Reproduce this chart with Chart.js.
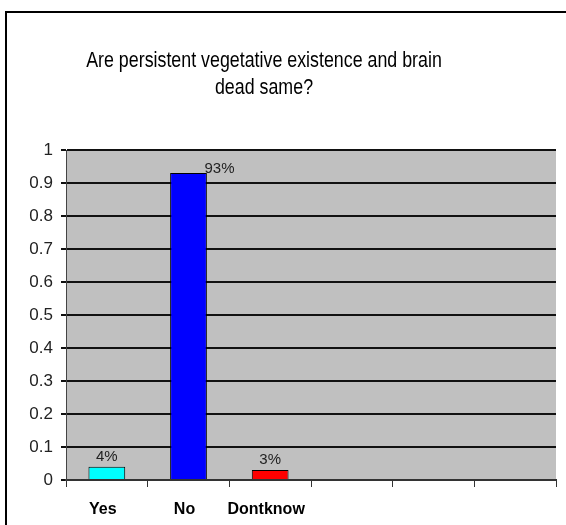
<!DOCTYPE html>
<html>
<head>
<meta charset="utf-8">
<script src="https://cdn.jsdelivr.net/npm/chart.js@4/dist/chart.umd.min.js"></script>
<style>
  html, body { margin: 0; padding: 0; background: #ffffff; }
  #wrap { position: relative; width: 566px; height: 525px; overflow: hidden; }
  #frame { position: absolute; left: 5px; top: 11px; width: 600px; height: 600px;
           border: 2px solid #000; box-sizing: border-box; }
  canvas { position: absolute; left: 0; top: 0; }
</style>
</head>
<body>
<div id="wrap">
  <div id="frame"></div>
  <canvas id="chart" width="566" height="525"></canvas>
</div>
<script>
// Survey answers and their shares
const categories = ['Yes', 'No', 'Dontknow', '', '', ''];
const shares = [0.04, 0.93, 0.03, null, null, null];
const barColors = ['#00ffff', '#0000ff', '#ff0000', '#000', '#000', '#000'];
const yTicks = [0, 0.1, 0.2, 0.3, 0.4, 0.5, 0.6, 0.7, 0.8, 0.9, 1];
const titleLines = ['Are persistent vegetative existence and brain', 'dead same?'];

const sans = "'Liberation Sans', Arial, sans-serif";

// Grey plot background behind the bars
const plotBackground = {
  id: 'plotBackground',
  beforeDraw(chart) {
    const { ctx, chartArea: a } = chart;
    ctx.save();
    ctx.fillStyle = '#c0c0c0';
    ctx.fillRect(a.left, a.top, a.right - a.left, a.bottom - a.top);
    ctx.restore();
  }
};

// Two-line heading above the plot, drawn in a condensed face
const heading = {
  id: 'heading',
  afterDraw(chart, args, opts) {
    const ctx = chart.ctx;
    ctx.save();
    ctx.translate(opts.x, opts.y);
    ctx.scale(opts.squeeze, 1);
    ctx.font = '22px ' + sans;
    ctx.fillStyle = '#000';
    ctx.textAlign = 'center';
    ctx.textBaseline = 'middle';
    titleLines.forEach((line, i) => ctx.fillText(line, 0, i * opts.lineGap));
    ctx.restore();
  }
};

// Percentage text above each bar
const valueLabels = {
  id: 'valueLabels',
  afterDatasetsDraw(chart, args, opts) {
    const { ctx } = chart;
    const meta = chart.getDatasetMeta(0);
    ctx.save();
    ctx.font = '15px ' + sans;
    ctx.fillStyle = '#222';
    ctx.textAlign = 'center';
    ctx.textBaseline = 'middle';
    meta.data.forEach((bar, i) => {
      const v = shares[i];
      if (v == null) return;
      const dx = (opts.dx && opts.dx[i]) || 0;
      const dy = (opts.dy && opts.dy[i]) || -10;
      ctx.fillText(Math.round(v * 100) + '%', bar.x + dx, bar.y + dy);
    });
    ctx.restore();
  }
};

new Chart(document.getElementById('chart'), {
  type: 'bar',
  data: {
    labels: categories,
    datasets: [{
      data: shares,
      backgroundColor: barColors,
      borderColor: '#000',
      borderWidth: 1,
      barPercentage: 0.45,
      categoryPercentage: 1
    }]
  },
  options: {
    responsive: false,
    animation: false,
    events: [],
    layout: { padding: { top: 150, right: 10, bottom: 0, left: 0 } },
    plugins: {
      legend: { display: false },
      tooltip: { enabled: false },
      title: { display: false },
      heading: { x: 264, y: 61, lineGap: 27, squeeze: 0.81 },
      valueLabels: { dx: [0, 31, 0], dy: [-10, -4, -10] }
    },
    scales: {
      x: {
        offset: true,
        grid: {
          display: true,
          offset: true,
          drawOnChartArea: false,
          tickLength: 7,
          color: '#333',
          lineWidth: 1
        },
        border: { display: true, color: '#333', width: 2 },
        ticks: {
          color: '#000',
          padding: 13,
          labelOffset: -4,
          autoSkip: false,
          maxRotation: 0,
          minRotation: 0,
          font: { family: sans, size: 16, weight: 'bold' }
        },
        afterFit(scale) { scale.height = 45; }
      },
      y: {
        min: 0,
        max: 1,
        afterBuildTicks(scale) { scale.ticks = yTicks.map(v => ({ value: v })); },
        grid: { color: '#111', lineWidth: 2, tickLength: 5 },
        border: { display: true, color: '#444', width: 1 },
        ticks: {
          color: '#222',
          padding: 8,
          font: { family: sans, size: 17 },
          callback: v => String(v)
        },
        afterFit(scale) { scale.width = 66; }
      }
    }
  },
  plugins: [plotBackground, valueLabels, heading]
});
</script>
</body>
</html>
